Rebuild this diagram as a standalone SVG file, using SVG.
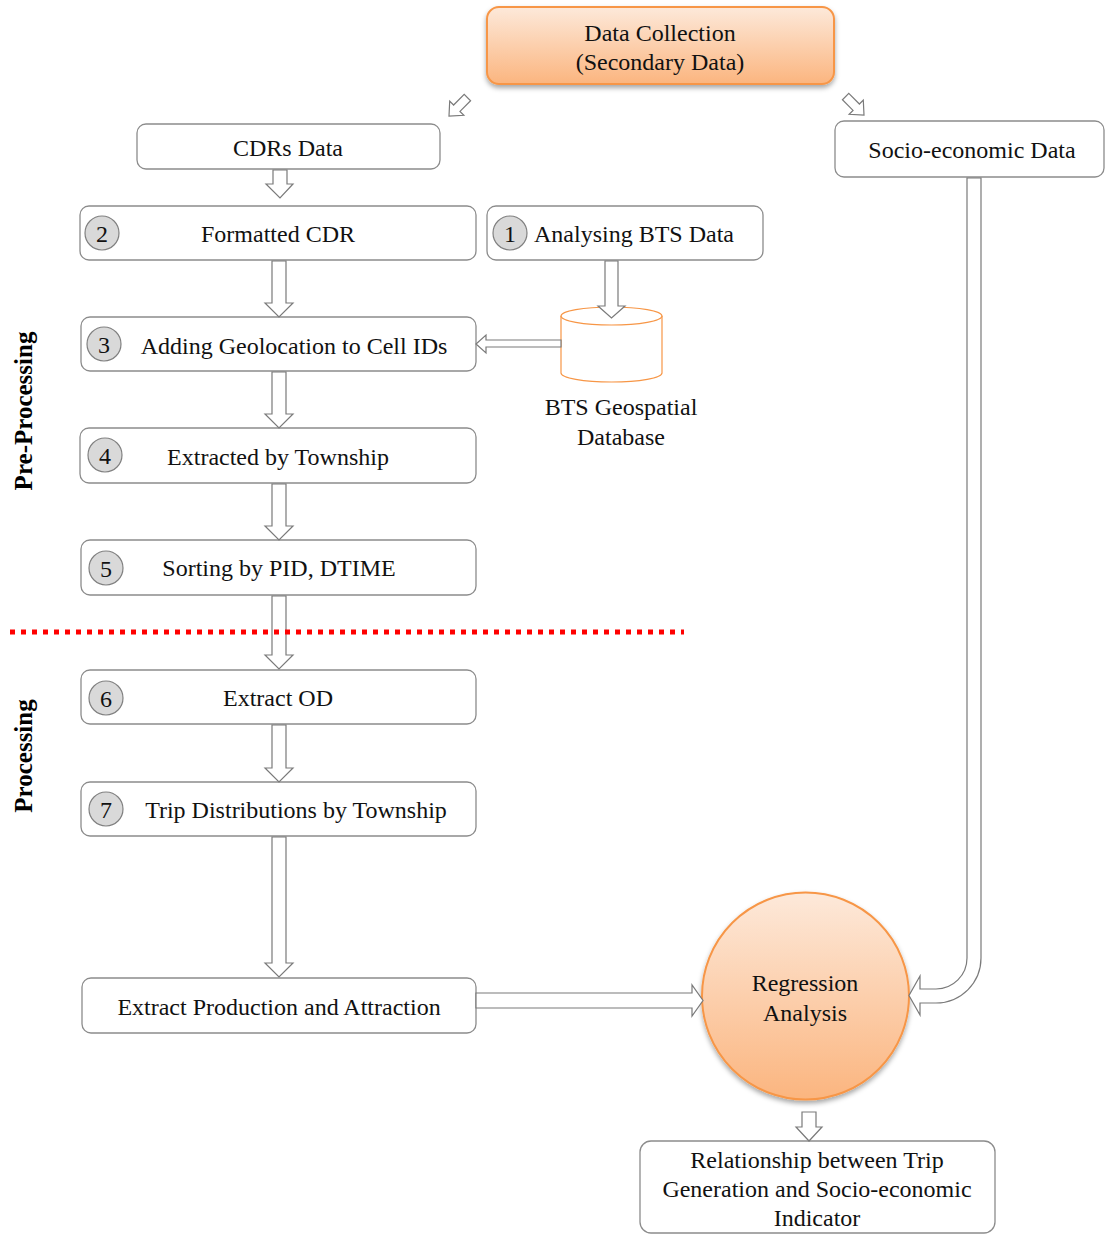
<svg xmlns="http://www.w3.org/2000/svg" width="1105" height="1236" viewBox="0 0 1105 1236">
<style>
.box{fill:#fff;stroke:#8c8c8c;stroke-width:1.3}
.t{font-family:"Liberation Serif","Times New Roman",serif;font-size:24px;fill:#111;text-anchor:middle}
.num{fill:#d9d9d9;stroke:#808080;stroke-width:1.2}
.arr{fill:#fff;stroke:#7a7a7a;stroke-width:1.2;stroke-linejoin:miter}
.side{font-family:"Liberation Serif","Times New Roman",serif;font-size:25px;font-weight:bold;fill:#000;text-anchor:middle}
.orange{fill:url(#og);stroke:#f79646;stroke-width:2;filter:url(#sh)}
</style>
<defs>
<linearGradient id="og" x1="0" y1="0" x2="0" y2="1">
<stop offset="0" stop-color="#fde9da"/>
<stop offset="1" stop-color="#fbb57f"/>
</linearGradient>
<filter id="sh" x="-20%" y="-20%" width="140%" height="150%">
<feDropShadow dx="0" dy="3" stdDeviation="2.5" flood-color="#000" flood-opacity="0.35"/>
</filter>
<path id="da" d="M-26,-4.5 L-11,-4.5 L-11,-10 L0,0 L-11,10 L-11,4.5 L-26,4.5 Z"/>
</defs>

<g id="side-labels">
<text class="side" transform="translate(32,411) rotate(-90)">Pre-Processing</text>
<text class="side" transform="translate(32,756) rotate(-90)">Processing</text>
</g>

<g id="node-datacollection">
<rect class="orange" x="487" y="7" width="347" height="77" rx="12"/>
<text class="t" x="660" y="41">Data Collection</text>
<text class="t" x="660" y="70">(Secondary Data)</text>
</g>

<g id="node-cdrs">
<rect class="box" x="137" y="124" width="303" height="45" rx="9"/>
<text class="t" x="288" y="156">CDRs Data</text>
</g>

<g id="node-socio">
<rect class="box" x="835" y="121" width="269" height="56" rx="9"/>
<text class="t" x="972" y="158">Socio-economic Data</text>
</g>

<g id="node-2">
<rect class="box" x="80" y="206" width="396" height="54" rx="9"/>
<circle class="num" cx="102" cy="233" r="17"/>
<text class="t" x="102" y="242">2</text>
<text class="t" x="278" y="242">Formatted CDR</text>
</g>

<g id="node-1">
<rect class="box" x="487" y="206" width="276" height="54" rx="9"/>
<circle class="num" cx="510" cy="233" r="17"/>
<text class="t" x="510" y="242">1</text>
<text class="t" x="634" y="242">Analysing BTS Data</text>
</g>

<g id="node-3">
<rect class="box" x="81" y="317" width="395" height="54" rx="9"/>
<circle class="num" cx="104" cy="344" r="17"/>
<text class="t" x="104" y="353">3</text>
<text class="t" x="294" y="354">Adding Geolocation to Cell IDs</text>
</g>

<g id="node-db">
<path d="M561,316 L561,373 A50.5,9 0 0 0 662,373 L662,316" fill="#fff" stroke="#f79646" stroke-width="1.2"/>
<ellipse cx="611.5" cy="316" rx="50.5" ry="9" fill="#fff" stroke="#f79646" stroke-width="1.2"/>
<text class="t" x="621" y="415">BTS Geospatial</text>
<text class="t" x="621" y="445">Database</text>
</g>

<g id="node-4">
<rect class="box" x="80" y="428" width="396" height="55" rx="9"/>
<circle class="num" cx="105" cy="455" r="17"/>
<text class="t" x="105" y="464">4</text>
<text class="t" x="278" y="465">Extracted by Township</text>
</g>

<g id="node-5">
<rect class="box" x="81" y="540" width="395" height="55" rx="9"/>
<circle class="num" cx="106" cy="568" r="17"/>
<text class="t" x="106" y="577">5</text>
<text class="t" x="279" y="576">Sorting by PID, DTIME</text>
</g>

<g id="node-6">
<rect class="box" x="81" y="670" width="395" height="54" rx="9"/>
<circle class="num" cx="106" cy="698" r="17"/>
<text class="t" x="106" y="707">6</text>
<text class="t" x="278" y="706">Extract OD</text>
</g>

<g id="node-7">
<rect class="box" x="81" y="782" width="395" height="54" rx="9"/>
<circle class="num" cx="106" cy="809" r="17"/>
<text class="t" x="106" y="818">7</text>
<text class="t" x="296" y="818">Trip Distributions by Township</text>
</g>

<g id="node-production">
<rect class="box" x="82" y="978" width="394" height="55" rx="9"/>
<text class="t" x="279" y="1015">Extract Production and Attraction</text>
</g>

<g id="node-regression">
<circle class="orange" cx="805.5" cy="996" r="103.5"/>
<text class="t" x="805" y="991">Regression</text>
<text class="t" x="805" y="1021">Analysis</text>
</g>

<g id="node-relationship">
<rect class="box" x="640" y="1141" width="355" height="92" rx="11"/>
<text class="t" x="817" y="1168">Relationship between Trip</text>
<text class="t" x="817" y="1197">Generation and Socio-economic</text>
<text class="t" x="817" y="1226">Indicator</text>
</g>

<g id="connectors">
<use href="#da" class="arr" transform="translate(449,116) rotate(135)"/>
<use href="#da" class="arr" transform="translate(864,115) rotate(45)"/>
<path class="arr" d="M273,170 L287,170 L287,184 L293,184 L280,198 L266,184 L273,184 Z"/>
<path class="arr" d="M272,261 L286,261 L286,303 L293,303 L279,317 L265,303 L272,303 Z"/>
<path class="arr" d="M272,372 L286,372 L286,414 L293,414 L279,428 L265,414 L272,414 Z"/>
<path class="arr" d="M272,484 L286,484 L286,526 L293,526 L279,540 L265,526 L272,526 Z"/>
<path class="arr" d="M272,596 L286,596 L286,655 L293,655 L279,669 L265,655 L272,655 Z"/>
<path class="arr" d="M272,725 L286,725 L286,768 L293,768 L279,782 L265,768 L272,768 Z"/>
<path class="arr" d="M272,837 L286,837 L286,963 L293,963 L279,977 L265,963 L272,963 Z"/>
<path class="arr" d="M605,261 L618,261 L618,306 L625,306 L611.5,318 L598,306 L605,306 Z"/>
<path class="arr" d="M561,340 L486,340 L486,335 L476,344 L486,353 L486,347 L561,347 Z"/>
<path class="arr" d="M476,993 L692,993 L692,985 L703,1000.5 L692,1016 L692,1008 L476,1008 Z"/>
<path class="arr" d="M967,178 L967,958 A31,31 0 0 1 936,989 L920,989 L920,976 L909,995.5 L920,1015 L920,1003 L936,1003 A45,45 0 0 0 981,958 L981,178 Z"/>
<path class="arr" d="M802,1112 L816,1112 L816,1127 L822,1127 L809,1141 L796,1127 L802,1127 Z"/>
</g>

<g id="divider">
<line x1="10" y1="632" x2="684" y2="632" stroke="#ff0000" stroke-width="5" stroke-dasharray="5 6"/>
</g>
</svg>
